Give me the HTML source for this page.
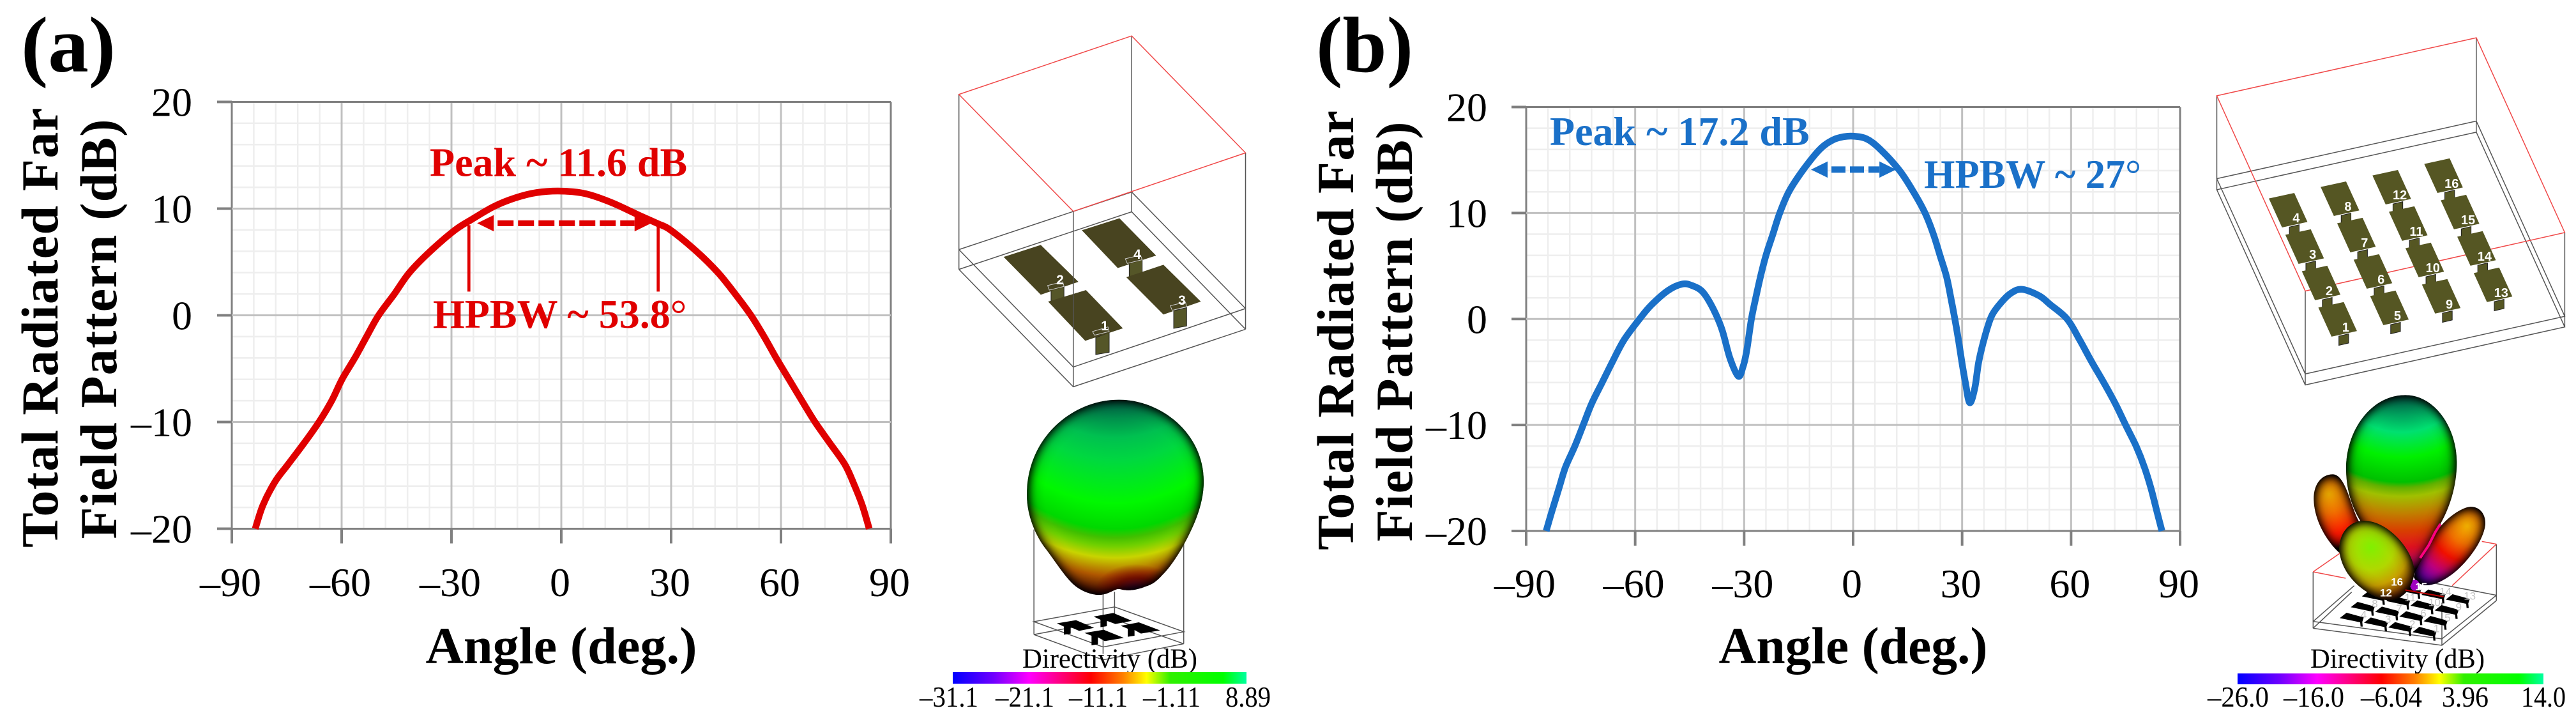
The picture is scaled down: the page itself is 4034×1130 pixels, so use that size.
<!DOCTYPE html>
<html lang="en">
<head>
<meta charset="utf-8">
<title>Radiation patterns of 4-element and 16-element arrays</title>
<style>
html,body{margin:0;padding:0;background:#fff;}
svg{display:block;}
text{font-family:"Liberation Serif",serif;}
.nss *{vector-effect:non-scaling-stroke;}
.box-red{fill:none;stroke:#f04848;stroke-width:1.5;}
.box-gray{fill:none;stroke:#555;stroke-width:1.5;}
.tick{font-size:64px;fill:#000;}
.title{font-size:82px;font-weight:bold;fill:#000;}
.panel{font-size:124px;font-weight:bold;fill:#000;}
.ann{font-size:64px;font-weight:bold;}
.cb{font-size:45px;fill:#000;}
.dir{font-size:43px;fill:#000;}
</style>
</head>
<body>
<svg id="fig" xmlns="http://www.w3.org/2000/svg" width="4034" height="1130" viewBox="0 0 4034 1130">
<defs>
  <linearGradient id="cbar" x1="0" x2="1" y1="0" y2="0">
    <stop offset="0" stop-color="#0000ff"/><stop offset=".14" stop-color="#7000ff"/>
    <stop offset=".26" stop-color="#ff00ff"/><stop offset=".47" stop-color="#ff0000"/>
    <stop offset=".58" stop-color="#ff8000"/><stop offset=".66" stop-color="#ffff00"/>
    <stop offset=".74" stop-color="#30f000"/><stop offset=".92" stop-color="#00ff00"/>
    <stop offset="1" stop-color="#00ffa0"/>
  </linearGradient>
  <radialGradient id="ballA" gradientUnits="userSpaceOnUse" cx="775" cy="55" r="1250">
    <stop offset=".65" stop-color="#006048"/><stop offset=".716" stop-color="#00c050"/>
    <stop offset=".756" stop-color="#00d840"/><stop offset=".83" stop-color="#00f800"/>
    <stop offset=".875" stop-color="#00d800"/><stop offset=".89" stop-color="#40c000"/>
    <stop offset=".905" stop-color="#70d000"/><stop offset=".925" stop-color="#c8d400"/>
    <stop offset=".956" stop-color="#b05800"/><stop offset=".99" stop-color="#400400"/>
  </radialGradient>
  <radialGradient id="ballADark" cx=".5" cy=".5" r=".5">
    <stop offset="0" stop-color="#300040" stop-opacity=".95"/>
    <stop offset=".5" stop-color="#6a0000" stop-opacity=".8"/>
    <stop offset="1" stop-color="#800000" stop-opacity="0"/>
  </radialGradient>
  <clipPath id="ballAClip"><path d="M790,868C600,868 413,950 413,1075C413,1120 450,1165 492,1193C530,1220 560,1245 592,1263C630,1285 690,1295 725,1291C755,1288 775,1278 792,1279C830,1285 870,1280 897,1274C925,1270 945,1262 967,1249C1000,1232 1025,1210 1045,1193C1090,1150 1137,1100 1137,1045C1137,940 960,868 790,868Z"/></clipPath>
  <radialGradient id="ballB" gradientUnits="userSpaceOnUse" cx="482" cy="-146" r="1026">
    <stop offset=".167" stop-color="#005a48"/><stop offset=".337" stop-color="#00e070"/>
    <stop offset=".45" stop-color="#00f000"/><stop offset=".565" stop-color="#00c000"/>
    <stop offset=".59" stop-color="#60b000"/><stop offset=".63" stop-color="#a0c000"/>
    <stop offset=".708" stop-color="#c08000"/><stop offset=".786" stop-color="#d84000"/>
    <stop offset=".864" stop-color="#e01020"/><stop offset="1" stop-color="#a000a0"/>
  </radialGradient>
  <radialGradient id="lobeL" gradientUnits="userSpaceOnUse" cx="140" cy="490" r="290">
    <stop offset="0" stop-color="#e8a800"/><stop offset=".3" stop-color="#f07000"/>
    <stop offset=".65" stop-color="#ff1800"/><stop offset="1" stop-color="#c00000"/>
  </radialGradient>
  <radialGradient id="lobeR" gradientUnits="userSpaceOnUse" cx="790" cy="640" r="330">
    <stop offset="0" stop-color="#f0b000"/><stop offset=".25" stop-color="#f07000"/>
    <stop offset=".5" stop-color="#f01000"/><stop offset=".75" stop-color="#c00080"/>
    <stop offset="1" stop-color="#6000c0"/>
  </radialGradient>
  <radialGradient id="lobeF" gradientUnits="userSpaceOnUse" cx="340" cy="740" r="300">
    <stop offset="0" stop-color="#80f000"/><stop offset=".35" stop-color="#b0d800"/>
    <stop offset=".6" stop-color="#c8a000"/><stop offset=".85" stop-color="#803000"/>
    <stop offset="1" stop-color="#400000"/>
  </radialGradient>
  <filter id="innerB" x="-5%" y="-5%" width="110%" height="110%" color-interpolation-filters="sRGB">
    <feGaussianBlur in="SourceAlpha" stdDeviation="36" result="b"/>
    <feComponentTransfer in="b" result="inv"><feFuncA type="table" tableValues="1 1 1 1 1 .8 .6 .4 .22 .08 0"/></feComponentTransfer>
    <feFlood flood-color="#000"/>
    <feComposite operator="in" in2="inv" result="s"/>
    <feComposite in="s" in2="SourceAlpha" operator="in" result="c"/>
    <feMerge><feMergeNode in="SourceGraphic"/><feMergeNode in="c"/></feMerge>
  </filter>
  <filter id="innerA" x="-5%" y="-5%" width="110%" height="110%" color-interpolation-filters="sRGB">
    <feGaussianBlur in="SourceAlpha" stdDeviation="32 17" result="b"/>
    <feComponentTransfer in="b" result="inv"><feFuncA type="table" tableValues="1 1 1 1 1 .8 .6 .4 .22 .08 0"/></feComponentTransfer>
    <feFlood flood-color="#000"/>
    <feComposite operator="in" in2="inv" result="s"/>
    <feComposite in="s" in2="SourceAlpha" operator="in" result="c"/>
    <feMerge><feMergeNode in="SourceGraphic"/><feMergeNode in="c"/></feMerge>
  </filter>
</defs>

<text class="panel" x="33" y="112" textLength="148" lengthAdjust="spacingAndGlyphs">(a)</text>
<text class="panel" x="2061" y="112" textLength="152" lengthAdjust="spacingAndGlyphs">(b)</text>

<!-- panel a titles -->
<text class="title" text-anchor="middle" x="879" y="1038" textLength="425" lengthAdjust="spacingAndGlyphs">Angle (deg.)</text>
<text class="title" text-anchor="middle" transform="translate(90,513) rotate(-90)" textLength="688">Total Radiated Far</text>
<text class="title" text-anchor="middle" transform="translate(182,515) rotate(-90)" textLength="657">Field Pattern (dB)</text>

<!-- panel b titles -->
<text class="title" text-anchor="middle" x="2902" y="1038" textLength="421" lengthAdjust="spacingAndGlyphs">Angle (deg.)</text>
<text class="title" text-anchor="middle" transform="translate(2119,517) rotate(-90)" textLength="688">Total Radiated Far</text>
<text class="title" text-anchor="middle" transform="translate(2211,519) rotate(-90)" textLength="657">Field Pattern (dB)</text>

<g id="plotA"></g>
<g id="plotB"></g>

<text class="ann" fill="#e00000" x="673" y="275.5">Peak ~ 11.6 dB</text>
<text class="ann" fill="#e00000" x="678" y="513">HPBW ~ 53.8<tspan font-weight="normal">°</tspan></text>
<text class="ann" fill="#1a70c8" x="2427" y="227">Peak ~ 17.2 dB</text>
<text class="ann" fill="#1a70c8" x="3013" y="294" textLength="340" lengthAdjust="spacingAndGlyphs">HPBW ~ 27<tspan font-weight="normal">°</tspan></text>

<!-- 4-element array model -->
<g class="nss" transform="translate(1450,0) scale(.38265,.7207)">
  <path class="box-gray" d="M135,205V585M842,78V460M1308,332V715M603,459V840M135,585L603,840L1308,715M135,542L603,797L1308,670M135,542L842,417L1308,670M135,585L842,460L1308,715"/>
  <polygon class="box-red" points="135,205 842,78 1308,332 603,459"/>
  <g fill="#555628" stroke="#222" stroke-width="1">
    <polygon points="512,630 565,622 565,650 512,658"/>
    <polygon points="695,733 750,722 750,765 695,770"/>
    <polygon points="832,570 885,562 885,595 832,602"/>
    <polygon points="1014,675 1067,668 1067,708 1014,713"/>
  </g>
  <g fill="#484420">
    <polygon points="318,558 470,532 624,612 470,640"/>
    <polygon points="500,655 655,630 806,713 652,740"/>
    <polygon points="638,500 792,474 942,555 785,582"/>
    <polygon points="820,602 972,575 1125,655 972,683"/>
  </g>
  <g fill="none" stroke="#ccc" stroke-width="1">
    <polygon points="498,620 560,612 565,622 505,630"/>
    <polygon points="682,720 745,710 750,720 690,728"/>
    <polygon points="816,562 878,554 885,564 824,572"/>
    <polygon points="1000,664 1062,656 1067,666 1008,674"/>
  </g>
  <path class="box-gray" d="M603,459V840"/>
</g>
<g font-weight="bold" font-size="21" fill="#fff" text-anchor="middle">
  <text x="1660" y="445" style="font-family:'Liberation Sans',sans-serif">2</text>
  <text x="1730" y="517" style="font-family:'Liberation Sans',sans-serif">1</text>
  <text x="1781" y="405" style="font-family:'Liberation Sans',sans-serif">4</text>
  <text x="1851" y="477" style="font-family:'Liberation Sans',sans-serif">3</text>
</g>

<!-- 4-element directivity balloon -->
<g class="nss" transform="translate(1450,0) scale(.38265,.7207)">
  <path class="box-gray" d="M442,1150V1378M1055,1180V1398M725,1280V1420M772,1285V1345M442,1350L772,1318L1055,1372L725,1405ZM442,1378L772,1345L1055,1398M442,1378L725,1433L1055,1398"/>
  <g filter="url(#innerA)">
    <g clip-path="url(#ballAClip)">
      <rect x="400" y="860" width="750" height="440" fill="url(#ballA)"/>
      <ellipse cx="860" cy="1285" rx="170" ry="60" fill="url(#ballADark)"/>
    </g>
  </g>
</g>
<g transform="translate(1580,860) scale(.33333)" fill="#000">
  <polygon points="225,347 315,332 400,368 330,382 290,365 290,395 258,400 258,362"/>
  <polygon points="398,315 490,298 578,335 500,350 460,335 460,360 430,365 430,330"/>
  <polygon points="355,392 445,377 540,415 450,430 418,412 418,445 388,450 388,405"/>
  <polygon points="525,358 610,342 710,380 620,395 590,378 590,405 558,410 558,372"/>
</g>
<text class="dir" x="1601" y="1045" textLength="274" lengthAdjust="spacingAndGlyphs">Directivity (dB)</text>
<rect x="1492" y="1052" width="460" height="18" fill="url(#cbar)"/>
<g>
  <text class="cb" x="1440" y="1106" textLength="92" lengthAdjust="spacingAndGlyphs">–31.1</text>
  <text class="cb" x="1559" y="1106" textLength="92" lengthAdjust="spacingAndGlyphs">–21.1</text>
  <text class="cb" x="1674" y="1106" textLength="92" lengthAdjust="spacingAndGlyphs">–11.1</text>
  <text class="cb" x="1790" y="1106" textLength="90" lengthAdjust="spacingAndGlyphs">–1.11</text>
  <text class="cb" x="1919" y="1106" textLength="71" lengthAdjust="spacingAndGlyphs">8.89</text>
</g>

<!-- 16-element array model -->
<g id="model16" class="nss" transform="translate(3434,0) scale(.38265,.7207)">
  <path class="box-gray" d="M98,208V412M1160,82V287M1522,505V710M460,632V836M98,388L1160,263L1522,687L460,812ZM98,412L1160,287L1522,710L460,836Z"/>
  <polygon class="box-red" points="98,208 1160,82 1522,505 460,632"/>
</g>
<g id="labels16"></g>

<!-- 16-element directivity balloon -->
<g id="balloon16" class="nss" transform="translate(3600,610) scale(.33333)">
  <path class="box-gray" d="M67,855V1120M928,725V990M672,1000V1200M67,1088L672,1170L928,965M67,1120L672,1200L928,990M67,1088L260,920M67,1120L248,950M928,965L620,905"/>
  <path class="box-red" d="M67,855L240,735M67,855L220,885M928,725L860,712M928,725L720,920"/>
  <g id="base16" fill="#000"></g>
  <path fill="url(#lobeL)" filter="url(#innerB)" d="M160,397C105,397 70,445 70,510C70,610 130,710 190,765L300,640C250,600 230,400 160,397Z"/>
  <path fill="url(#lobeR)" filter="url(#innerB)" d="M540,880C570,760 660,610 770,560C830,530 878,570 876,630C870,710 780,830 700,880C640,920 570,940 540,880Z"/>
  <path fill="url(#ballB)" filter="url(#innerB)" d="M500,25C340,25 222,190 222,370C222,500 270,610 340,680C420,760 500,830 540,870C570,810 620,720 665,630C710,550 742,450 742,340C742,180 640,25 500,25Z"/>
  <path fill="none" stroke="#ff0080" stroke-width="4" d="M665,630L640,670L610,730L570,790"/>
  <ellipse cx="545" cy="918" rx="22" ry="26" fill="#a000c0"/>
  <path fill="url(#lobeF)" filter="url(#innerB)" d="M300,615C230,620 188,680 190,750C195,850 280,950 400,985C470,1000 530,950 543,860C545,760 420,610 300,615Z"/>
  <path fill="none" stroke="#c00000" stroke-width="2" d="M500,940L680,972"/>
</g>
<g id="balloonLabels16"></g>
<text class="dir" x="3618" y="1045" textLength="273" lengthAdjust="spacingAndGlyphs">Directivity (dB)</text>
<rect x="3504" y="1054" width="479" height="17" fill="url(#cbar)"/>
<g>
  <text class="cb" x="3457" y="1106" textLength="96" lengthAdjust="spacingAndGlyphs">–26.0</text>
  <text class="cb" x="3576" y="1106" textLength="95" lengthAdjust="spacingAndGlyphs">–16.0</text>
  <text class="cb" x="3697" y="1106" textLength="96" lengthAdjust="spacingAndGlyphs">–6.04</text>
  <text class="cb" x="3824" y="1106" textLength="73" lengthAdjust="spacingAndGlyphs">3.96</text>
  <text class="cb" x="3948" y="1106" textLength="70" lengthAdjust="spacingAndGlyphs">14.0</text>
</g>
</svg>

<script>
// Chart data
const xTicks = [-90, -60, -30, 0, 30, 60, 90];
const yTicks = [-20, -10, 0, 10, 20];
const xMinorStep = 6;
const yMinorStep = 2;

const anglesA = [-83.6,-81.5,-78.2,-74.7,-70.3,-66.2,-62.7,-59.9,-56.4,-53.2,-49.9,-45.6,-41.5,-35.8,-29,-24.4,-18.4,-12.6,-6.8,0,6.6,13.5,21.1,26.3,29.8,36.9,42.8,47.5,51.8,55.4,58.7,62.2,65.7,69.3,73.4,77.5,79.9,82.2,84.1];
const gainA   = [-20,-17.8,-15.6,-14,-12,-10,-8,-6,-4,-2,0,2,4,6,8,9,10.2,11,11.5,11.64,11.4,10.6,9.4,8.6,8,6,4,2,0,-2,-4,-6,-8,-10,-12,-14,-15.8,-17.8,-20];
const hpbwMarkersA = [-25.24, 26.46];
const hpbwArrowAnglesA = [-22.98, 24.55];
const hpbwArrowGainA = 8.63;

const anglesB = [-84.5,-82.8,-81,-79.2,-76.6,-74.3,-72,-69.1,-66.2,-63.1,-58.8,-55.6,-50.9,-47,-44.3,-41.4,-38.5,-36.1,-33.9,-31.6,-30.3,-29.3,-28,-26.8,-25.5,-24,-22.1,-20.2,-17.7,-13.9,-9.2,-5.5,-2.5,0,3.7,7.5,12.8,16.6,19.8,22.1,23.9,25.7,26.9,28,29,29.9,30.9,32.1,33.5,34.6,36.3,38.2,41,43.5,46.5,51.2,54.3,58.9,62.4,65.6,69,72.2,75,77.9,80.2,82,83.5,85];
const gainB   = [-20,-18,-16,-14,-12,-10,-8,-6,-4,-2,0,1.3,2.7,3.3,3.15,2.55,0.95,-1,-3.7,-5.4,-4.5,-3,0,2,4,6,8,10,12,14,16,16.9,17.2,17.25,17,16,14,12,10,8,6,4,2,0,-2,-4,-6,-7.9,-6.5,-4,-1.6,0.34,1.65,2.45,2.8,2.2,1.35,0,-2,-4,-6,-8,-10,-12,-14,-16,-18,-20];
const hpbwArrowAnglesB = [-11.6, 11.8];
const hpbwArrowGainB = 14.1;

const SVGNS = 'http://www.w3.org/2000/svg';
function mk(tag, attrs, parent) {
  const el = document.createElementNS(SVGNS, tag);
  for (const k in attrs) el.setAttribute(k, attrs[k]);
  parent.appendChild(el);
  return el;
}
function fmt(v) { return v < 0 ? '–' + Math.abs(v) : String(v); }
function smooth(p) {
  let d = 'M' + p[0][0].toFixed(1) + ',' + p[0][1].toFixed(1);
  for (let i = 0; i < p.length - 1; i++) {
    const a = p[Math.max(i - 1, 0)], b = p[i], c = p[i + 1], e = p[Math.min(i + 2, p.length - 1)];
    d += 'C' + (b[0] + (c[0] - a[0]) / 6).toFixed(1) + ',' + (b[1] + (c[1] - a[1]) / 6).toFixed(1) + ' ' +
      (c[0] - (e[0] - b[0]) / 6).toFixed(1) + ',' + (c[1] - (e[1] - b[1]) / 6).toFixed(1) + ' ' +
      c[0].toFixed(1) + ',' + c[1].toFixed(1);
  }
  return d;
}

function drawChart(root, o) {
  const sx = v => o.left + (v + 90) / 180 * (o.right - o.left);
  const sy = v => o.bottom - (v + 20) / 40 * (o.bottom - o.top);

  for (let v = -90; v <= 90; v += xMinorStep) {
    if (xTicks.includes(v)) continue;
    const l = mk('line', {x1: sx(v), x2: sx(v), y1: o.top, y2: o.bottom, stroke: '#eeeeee', 'stroke-width': 2.5}, root);
    
    
  }
  for (let v = -20; v <= 20; v += yMinorStep) {
    if (yTicks.includes(v)) continue;
    const l = mk('line', {x1: o.left, x2: o.right, y1: sy(v), y2: sy(v), stroke: '#eeeeee', 'stroke-width': 2.5}, root);
    
    
  }
  xTicks.forEach(v => {
    const edge = v === -90 || v === 90;
    const g = mk('line', {x1: sx(v), x2: sx(v), y1: o.top, y2: o.bottom, stroke: edge ? '#808080' : '#c0c0c0', 'stroke-width': 3}, root);
    
    
    const t = mk('line', {x1: sx(v), x2: sx(v), y1: o.bottom, y2: o.bottom + 23, stroke: '#808080', 'stroke-width': 4}, root);
    
    
    const s = mk('text', {x: sx(v) + o.xLabelShift, y: o.xLabelY, 'text-anchor': 'middle', class: 'tick'}, root);
    
    
    s.textContent = fmt(v);
  });
  yTicks.forEach(v => {
    const edge = v === -20 || v === 20;
    const g = mk('line', {x1: o.left, x2: o.right, y1: sy(v), y2: sy(v), stroke: edge ? '#808080' : '#c0c0c0', 'stroke-width': 3}, root);
    
    
    const t = mk('line', {x1: o.left - 23, x2: o.left, y1: sy(v), y2: sy(v), stroke: '#808080', 'stroke-width': 4}, root);
    
    
    const s = mk('text', {x: o.yLabelX, y: sy(v) + 22, 'text-anchor': 'end', class: 'tick'}, root);
    
    
    s.textContent = fmt(v);
  });

  const pts = o.angles.map((a, i) => [sx(a), sy(o.gain[i])]);
  const c = mk('path', {d: smooth(pts), fill: 'none', stroke: o.color, 'stroke-width': 10.5, 'stroke-linejoin': 'round'}, root);
  
  

  (o.markers || []).forEach(a => {
    const m = mk('line', {x1: sx(a), x2: sx(a), y1: sy(o.arrowGain) + 3, y2: sy(o.arrowGain) + 107, stroke: o.color, 'stroke-width': 4.7}, root);
    
    
  });

  const x0 = sx(o.arrowAngles[0]), x1 = sx(o.arrowAngles[1]), ya = sy(o.arrowGain);
  const shaft = mk('line', {x1: x0 + 32, x2: x1 - 26, y1: ya, y2: ya, stroke: o.color, 'stroke-width': o.shaft, 'stroke-dasharray': o.dash}, root);
  
  
  const h1 = mk('polygon', {points: x0 + ',' + ya + ' ' + (x0 + 26) + ',' + (ya - 12.7) + ' ' + (x0 + 26) + ',' + (ya + 12.7), fill: o.color}, root);
  
  
  const h2 = mk('polygon', {points: x1 + ',' + ya + ' ' + (x1 - 26) + ',' + (ya - 12.7) + ' ' + (x1 - 26) + ',' + (ya + 12.7), fill: o.color}, root);
  
  
}

drawChart(document.getElementById('plotA'), {
  left: 363, right: 1395, top: 159.5, bottom: 827.5, xLabelY: 933, xLabelShift: -2, yLabelX: 301,
  angles: anglesA, gain: gainA, color: '#e00000', dash: '25 7', shaft: 9,
  markers: hpbwMarkersA, arrowAngles: hpbwArrowAnglesA, arrowGain: hpbwArrowGainA
});
drawChart(document.getElementById('plotB'), {
  left: 2390, right: 3414, top: 167.5, bottom: 831, xLabelY: 935, xLabelShift: -2, yLabelX: 2329,
  angles: anglesB, gain: gainB, color: '#1a70c8', dash: '22 7', shaft: 10,
  markers: [], arrowAngles: hpbwArrowAnglesB, arrowGain: hpbwArrowGainB
});

// 16-element model patches and the miniature base under the balloon
const model16 = document.getElementById('model16');
const labels16 = document.getElementById('labels16');
const base16 = document.getElementById('base16');
const balloonLabels16 = document.getElementById('balloonLabels16');
const whiteBalloonLabels = [16, 12, 15];
for (let col = 0; col < 4; col++) {
  for (let row = 0; row < 4; row++) {
    const id = (col * 4) + (4 - row);
    const x = 311 + 212 * col + 67.5 * row;
    const y = 431 - 25 * col + 79 * row;
    const feed = mk('polygon', {points: [[84,62],[124,57],[124,77],[84,82]].map(p => (x + p[0]) + ',' + (y + p[1])).join(' '), fill: '#555623', stroke: '#222', 'stroke-width': 1}, model16);
    
    
    const patch = mk('polygon', {points: [[0,0],[104,-12],[158,51],[54,63]].map(p => (x + p[0]) + ',' + (y + p[1])).join(' '), fill: '#555623'}, model16);
    
    
    const lab = mk('text', {x: 3434 + (x + 112) * .38265, y: (y + 52) * .7207, 'text-anchor': 'middle', 'font-size': 20, 'font-weight': 'bold', fill: '#fff', style: "font-family:'Liberation Sans',sans-serif"}, labels16);
    
    
    lab.textContent = id;

    const bx = 192 + 114 * row + 52 * col, by = 1072 + 22 * row - 51 * col;
    const small = mk('polygon', {points: [[0,0],[32,-25],[113,-3],[106,18],[108,40],[98,40],[96,20]].map(p => (bx + p[0]) + ',' + (by + p[1])).join(' ')}, base16);
    
    
    const white = whiteBalloonLabels.includes(id);
    const bl = mk('text', {x: 3600 + (bx + 113) / 3, y: 610 + (by - 17) / 3 + 6, 'text-anchor': 'middle', 'font-size': 17, 'font-weight': white ? 'bold' : 'normal', fill: white ? '#fff' : '#c4c4c4', style: "font-family:'Liberation Sans',sans-serif"}, balloonLabels16);
    
    
    bl.textContent = id;
  }
}
</script>
</body>
</html>
